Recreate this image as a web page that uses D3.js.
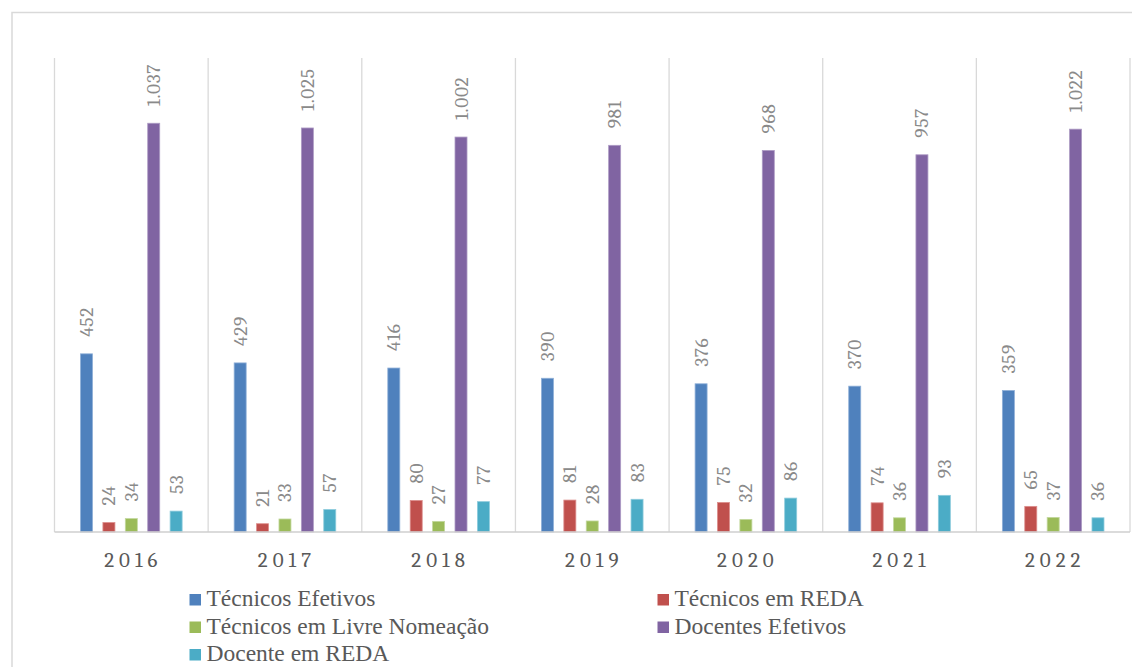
<!DOCTYPE html>
<html>
<head>
<meta charset="utf-8">
<script src="https://cdn.jsdelivr.net/npm/d3@7"></script>
<style>
  html, body { margin: 0; padding: 0; background: #fff; }
  svg { display: block; }
</style>
</head>
<body>
<svg id="chart" width="1132" height="667"></svg>
<script>
// Staff counts per year, by category
const years = ["2016", "2017", "2018", "2019", "2020", "2021", "2022"];
const seriesNames = ["Técnicos Efetivos", "Técnicos em REDA", "Técnicos em Livre Nomeação", "Docentes Efetivos", "Docente em REDA"];
const tecnicosEfetivos = [452, 429, 416, 390, 376, 370, 359];
const tecnicosReda = [24, 21, 80, 81, 75, 74, 65];
const tecnicosLivre = [34, 33, 27, 28, 32, 36, 37];
const docentesEfetivos = [1037, 1025, 1002, 981, 968, 957, 1022];
const docenteReda = [53, 57, 77, 83, 86, 93, 36];
const seriesColors = ["#4f81bd", "#c0504d", "#9bbb59", "#8064a2", "#4bacc6"];
const seriesEdges = ["#8fb0d8", "#dc8e8c", "#c3d89e", "#ad9bc4", "#8dcbdc"];

const seriesValues = [tecnicosEfetivos, tecnicosReda, tecnicosLivre, docentesEfetivos, docenteReda];

const numFont = "Cambria, Caladea, serif";
const serifName = "Liberation Serif";
const textFont = `"${serifName}", Cambria, serif`;

const svg = d3.select("#chart");
const W = 1132, H = 667;
const plot = { left: 54.5, right: 1130, top: 59, bottom: 532 };

// Pt-BR number format: thousands separated by "."
const fmt = d3.formatLocale({ decimal: ",", thousands: ".", grouping: [3], currency: ["R$", ""] }).format(",d");

// Outer chart frame
svg.append("rect")
  .attr("x", 12).attr("y", 12.5)
  .attr("width", W + 20).attr("height", H + 20)
  .attr("fill", "#fff").attr("stroke", "#d9d9d9").attr("stroke-width", 1.5);

const x = d3.scaleBand().domain(years).range([plot.left, plot.right]).padding(0);
const xs = d3.scaleBand().domain(seriesNames).range([-56, 56]).paddingInner(0.4643).paddingOuter(0.232);
const y = d3.scaleLinear().domain([0, 1200]).range([plot.bottom, plot.top]);

// Vertical separators between year groups
const bounds = years.map(d => x(d)).concat([plot.right]);
svg.append("g").selectAll("line").data(bounds).join("line")
  .attr("x1", d => d).attr("x2", d => d)
  .attr("y1", plot.top - 1).attr("y2", plot.bottom)
  .attr("stroke", "#d9d9d9").attr("stroke-width", 1.3);

// Bars
const rows = [];
years.forEach((yr, i) => {
  seriesNames.forEach((s, j) => {
    rows.push({ year: yr, series: s, j, value: seriesValues[j][i] });
  });
});

const g = svg.append("g");
g.selectAll("rect.bar").data(rows).join("rect")
  .attr("class", "bar")
  .attr("x", d => x(d.year) + x.bandwidth() / 2 + xs(d.series))
  .attr("y", d => y(d.value))
  .attr("width", xs.bandwidth())
  .attr("height", d => y(0) - y(d.value))
  .attr("fill", d => seriesColors[d.j])
  .attr("stroke", d => seriesEdges[d.j])
  .attr("stroke-width", 0.8);

// Value labels, rotated, above each bar
g.selectAll("text.val").data(rows).join("text")
  .attr("class", "val")
  .attr("transform", d => {
    const cx = x(d.year) + x.bandwidth() / 2 + xs(d.series) + xs.bandwidth() / 2;
    return `translate(${cx + 6.5},${y(d.value) - 17}) rotate(-90)`;
  })
  .attr("text-anchor", "start")
  .style("font-family", numFont)
  .style("font-size", "19.5px")
  .style("letter-spacing", "0.6px")
  .style("fill", "#8a8a8a")
  .text(d => fmt(d.value));

// Baseline
svg.append("line")
  .attr("x1", plot.left).attr("x2", plot.right)
  .attr("y1", plot.bottom).attr("y2", plot.bottom)
  .attr("stroke", "#cfcfcf").attr("stroke-width", 1.5);

// Year labels
svg.append("g").selectAll("text").data(years).join("text")
  .attr("x", d => x(d) + x.bandwidth() / 2 + 2)
  .attr("y", 567)
  .attr("text-anchor", "middle")
  .style("font-family", numFont)
  .style("font-size", "21px")
  .style("letter-spacing", "5px")
  .style("fill", "#595959")
  .text(d => d);

// Legend (two columns)
const legendPos = [
  { x: 189.5, y: 606 }, { x: 657.5, y: 606 },
  { x: 189.5, y: 633.5 }, { x: 657.5, y: 633.5 },
  { x: 189.5, y: 661 }
];
const lg = svg.append("g").selectAll("g").data(seriesNames).join("g")
  .attr("transform", (d, i) => `translate(${legendPos[i].x},${legendPos[i].y})`);
lg.append("rect")
  .attr("x", 0).attr("y", -12)
  .attr("width", 11.5).attr("height", 11.5)
  .attr("fill", (d, i) => seriesColors[i]);
lg.append("text")
  .attr("x", 17).attr("y", 0)
  .style("font-family", textFont)
  .style("font-size", "23.5px")
  .style("fill", "#595959")
  .text(d => d);
</script>
</body>
</html>
